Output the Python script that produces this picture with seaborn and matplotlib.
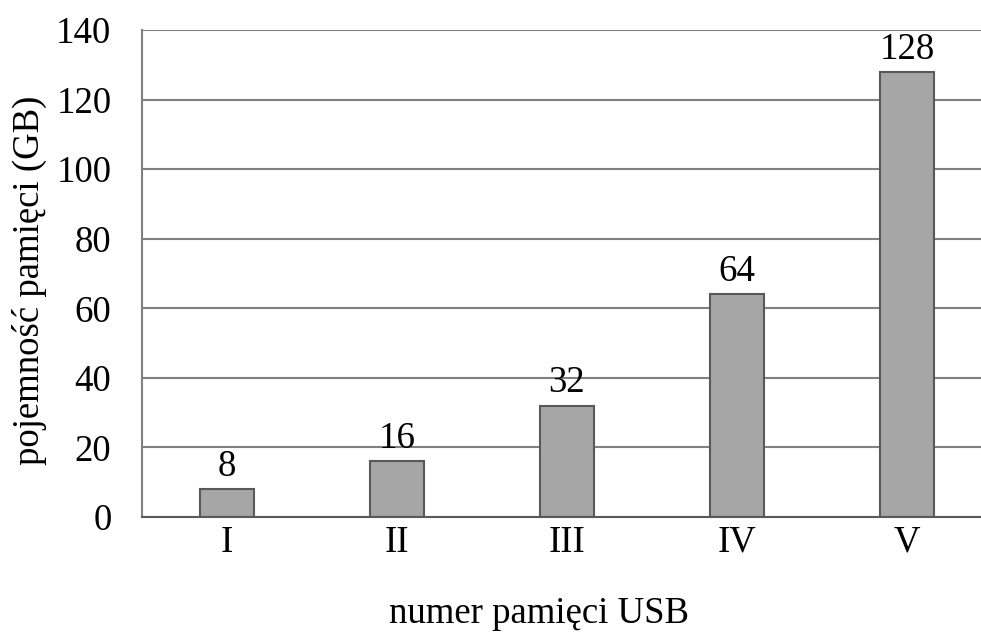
import matplotlib
matplotlib.use("Agg")
import matplotlib.pyplot as plt
import seaborn as sns
import pandas as pd

categories = ["I", "II", "III", "IV", "V"]
values = [8, 16, 32, 64, 128]
yticks = [0, 20, 40, 60, 80, 100, 120, 140]

sns.set_theme(style="white")
plt.rcParams['font.family'] = ['Liberation Serif', 'DejaVu Serif']

df = pd.DataFrame({"cat": categories, "val": values})

FS = 26.5
fig = plt.figure(figsize=(9.81, 6.37), dpi=100)
ax = fig.add_axes([142/981, (637-517)/637, 850/981, 487/637])

ax.yaxis.grid(True, color="#808080", linewidth=1.5)
ax.set_axisbelow(True)
sns.barplot(data=df, x="cat", y="val", ax=ax, color="#a6a6a6",
            edgecolor="#595959", linewidth=1.5, width=0.32, saturation=1)

for i, v in enumerate(values):
    ax.text(i, v + 1.5, str(v), ha="center", va="bottom", fontsize=FS, color="black")

ax.set_xlim(-0.5, 4.5)
ax.set_ylim(0, 140)
ax.set_yticks(yticks)
ax.tick_params(axis="both", length=0, labelsize=FS, colors="black")
ax.tick_params(axis="y", pad=22)
ax.tick_params(axis="x", pad=6)
for s in ["top", "right"]:
    ax.spines[s].set_visible(False)
ax.spines["left"].set_color("#808080")
ax.spines["left"].set_linewidth(1.5)
ax.spines["bottom"].set_color("#595959")
ax.spines["bottom"].set_linewidth(1.5)

ax.set_xlabel("")
ax.set_ylabel("")
fig.text(539/981, (637-623)/637, "numer pamięci USB", fontsize=FS, color="black",
         ha="center", va="baseline")
fig.text(29/981, (637-280)/637, "pojemność pamięci (GB)", fontsize=FS, color="black",
         ha="center", va="center", rotation=90)

fig.savefig("out.png", dpi=100)
